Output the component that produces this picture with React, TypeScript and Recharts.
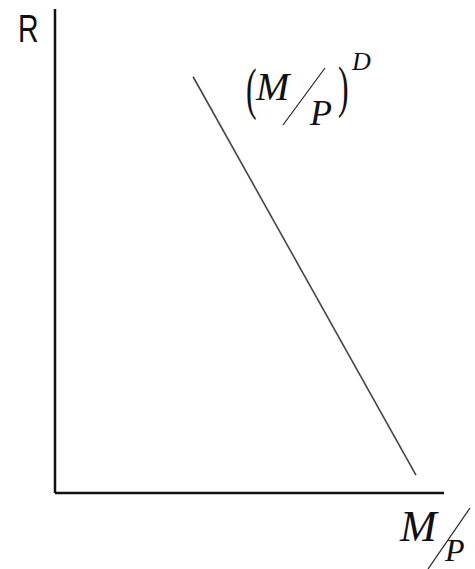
import React from 'react';
import { LineChart, XAxis, YAxis, Line, ReferenceLine, Customized } from 'recharts';

// real money balances (M/P) and interest rate (R) at the ends of the demand curve
const moneyQuantity = [3.55, 9.28];
const interestRate = [8.6, 0.37];

const data = moneyQuantity.map((m, i) => ({ m, r: interestRate[i] }));

const serif = '"Liberation Serif", "DejaVu Serif", serif';

const Labels = () => (
    <g>
        <text x={18} y={42} fontFamily='"Liberation Sans", Arial, sans-serif' fontSize={38} fill="#111" transform="translate(18 0) scale(0.75 1) translate(-18 0)">R</text>
        {/* curve label (M/P)^D */}
        <text x={246} y={108} fontFamily={serif} fontSize={58} fill="#111" transform="translate(246 0) scale(0.55 1) translate(-246 0)">(</text>
        <text x={256} y={100} fontFamily={serif} fontStyle="italic" fontSize={40} fill="#111">M</text>
        <line x1={283} y1={125} x2={325} y2={68} stroke="#222" strokeWidth={1.2} />
        <text x={310} y={125} fontFamily={serif} fontStyle="italic" fontSize={36} fill="#111">P</text>
        <text x={338} y={106} fontFamily={serif} fontSize={58} fill="#111" transform="translate(338 0) scale(0.55 1) translate(-338 0)">)</text>
        <text x={352} y={70} fontFamily={serif} fontStyle="italic" fontSize={26} fill="#111">D</text>
        {/* x axis label M/P */}
        <text x={400} y={541} fontFamily={serif} fontStyle="italic" fontSize={44} fill="#111">M</text>
        <line x1={428} y1={569} x2={470} y2={508} stroke="#222" strokeWidth={1.2} />
        <text x={445} y={561} fontFamily={serif} fontStyle="italic" fontSize={32} fill="#111">P</text>
    </g>
);

const App: React.FC = () => {
    return (
        <div style={{ position: 'absolute', left: 0, top: 0, width: 475, height: 569, background: '#fff' }}>
            <LineChart width={475} height={569} data={data} margin={{ top: 9, right: 31, left: 55, bottom: 76 }}>
                <XAxis dataKey="m" type="number" domain={[0, 10]} hide />
                <YAxis dataKey="r" type="number" domain={[0, 10]} hide />
                <ReferenceLine x={0} stroke="#111" strokeWidth={2.5} />
                <ReferenceLine y={0} stroke="#111" strokeWidth={2.5} />
                <Line dataKey="r" stroke="#444" strokeWidth={1.6} dot={false} isAnimationActive={false} />
                <Customized component={Labels} />
            </LineChart>
        </div>
    );
};

export default App;
